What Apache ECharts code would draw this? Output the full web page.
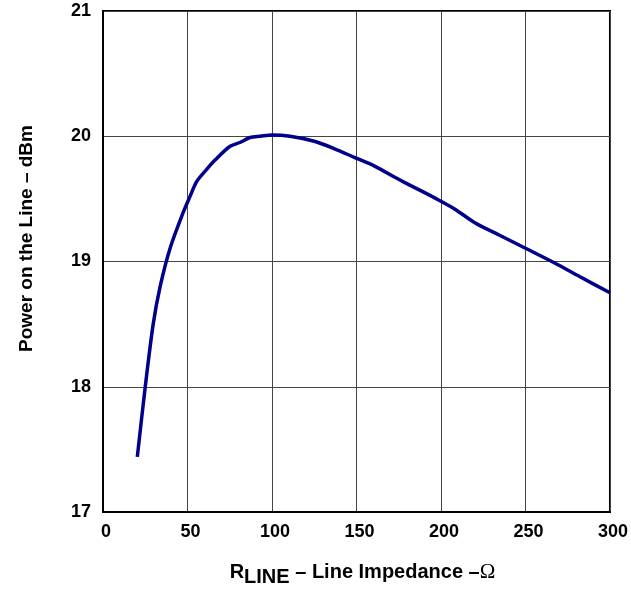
<!DOCTYPE html>
<html><head><meta charset="utf-8">
<script src="https://cdn.jsdelivr.net/npm/echarts@6/dist/echarts.min.js"></script>
<style>html,body{margin:0;padding:0;background:#fff;overflow:hidden}#c{width:631px;height:592px}</style>
</head><body><div id="c"></div>
<script>
const impedance = [20.3, 25, 29.7, 33.8, 39.8, 47.4, 51.5, 55.5, 61.6, 66.3, 75.2, 81, 87, 93, 100, 110.7, 125, 137, 149, 161, 173, 178.6, 187.4, 196, 208, 220, 234.7, 249.4, 267, 282, 300];
const power = [17.44, 18.0, 18.5, 18.8, 19.11, 19.39, 19.52, 19.64, 19.74, 19.81, 19.92, 19.95, 19.99, 20.0, 20.01, 20.0, 19.96, 19.90, 19.83, 19.76, 19.67, 19.63, 19.57, 19.51, 19.42, 19.31, 19.21, 19.11, 18.99, 18.88, 18.75];
const xTicks = [0, 50, 100, 150, 200, 250, 300];
const yTicks = [17, 18, 19, 20, 21];

const chart = echarts.init(document.getElementById('c'));
const font = '"Liberation Sans", Arial, sans-serif';
const base = {fontFamily: font, fontWeight: 'bold', fontSize: 20, color: '#000', lineHeight: 20, verticalAlign: 'top'};
chart.setOption({
  animation: false,
  grid: {left: 103, right: 21, top: 11, bottom: 75, show: true, borderColor: '#000', borderWidth: 2, containLabel: false},
  xAxis: {
    type: 'value', min: xTicks[0], max: xTicks[xTicks.length-1], interval: 50,
    axisLine: {show: true, lineStyle: {color: '#000', width: 2}},
    axisTick: {show: false},
    splitLine: {show: true, lineStyle: {color: '#444', width: 1}},
    axisLabel: {color: '#000', fontFamily: font, fontWeight: 'bold', fontSize: 18, margin: 11, padding: [0, 0, 0, 6]},
    name: '{r|R}{s|LINE}{t| – Line Impedance –}{o|Ω}',
    nameLocation: 'middle', nameGap: 50,
    nameTextStyle: {
      padding: [0, 0, 0, 12],
      rich: {
        r: base,
        s: Object.assign({}, base, {padding: [5, 0, 0, 0]}),
        t: base,
        o: Object.assign({}, base, {fontFamily: '"Liberation Serif", "DejaVu Serif", serif', fontWeight: 'normal', fontSize: 21})
      }
    }
  },
  yAxis: {
    type: 'value', min: yTicks[0], max: yTicks[yTicks.length-1], interval: 1,
    axisLine: {show: true, lineStyle: {color: '#000', width: 2}},
    axisTick: {show: false},
    splitLine: {show: true, lineStyle: {color: '#444', width: 1}},
    axisLabel: {color: '#000', fontFamily: font, fontWeight: 'bold', fontSize: 18, margin: 12},
    name: 'Power on the Line – dBm',
    nameLocation: 'middle', nameGap: 67, nameRotate: 90,
    nameTextStyle: {color: '#000', fontFamily: font, fontWeight: 'bold', fontSize: 19, padding: [0, 0, 0, 46]}
  },
  series: [{
    type: 'line', data: impedance.map((x, i) => [x, power[i]]),
    smooth: 0.3, showSymbol: false,
    lineStyle: {color: '#00008B', width: 3.5}
  }]
});
</script></body></html>
